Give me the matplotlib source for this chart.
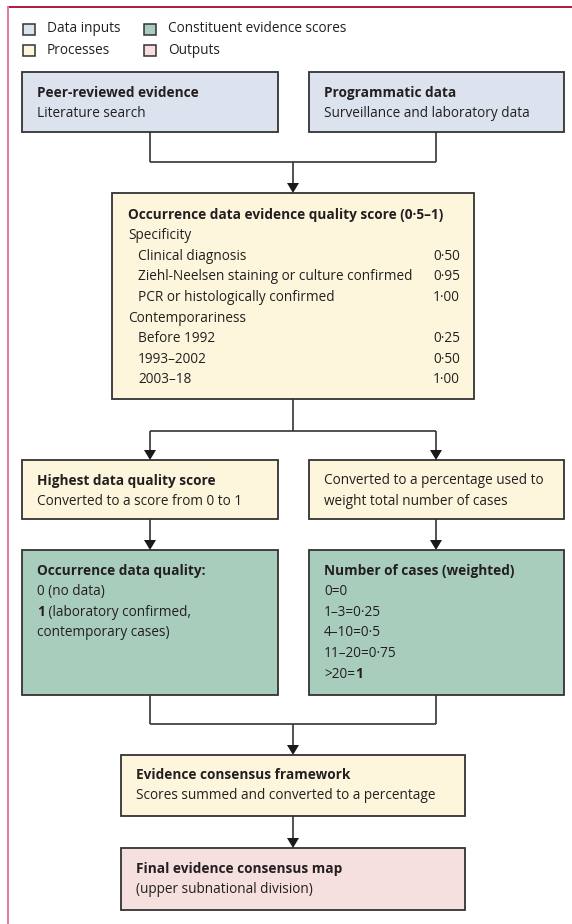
import matplotlib.pyplot as plt
from matplotlib.patches import Rectangle, Polygon

# ---- Content -------------------------------------------------------------
legend_labels = ["Data inputs", "Processes", "Constituent evidence scores", "Outputs"]

specificity_items = ["Clinical diagnosis",
                     "Ziehl-Neelsen staining or culture confirmed",
                     "PCR or histologically confirmed"]
specificity_scores = [0.50, 0.95, 1.00]

contemporary_items = ["Before 1992", "1993\u20132002", "2003\u201318"]
contemporary_scores = [0.25, 0.50, 1.00]

case_bins = ["0", "1\u20133", "4\u201310", "11\u201320", ">20"]
case_weights = [0, 0.25, 0.5, 0.75, 1]

# ---- Colours -------------------------------------------------------------
C_INPUT = "#dde3ee"
C_PROC = "#fdf6dc"
C_SCORE = "#a9cdbd"
C_OUT = "#f5dfdf"
EDGE = "#333333"
TXT = "#231f20"

FONT = "Open Sans"
FS = 9.8
LINE = 20.6

W, H = 572, 924
fig = plt.figure(figsize=(W / 100, H / 100), dpi=100)
ax = fig.add_axes([0, 0, 1, 1])
ax.set_xlim(0, W)
ax.set_ylim(H, 0)
ax.axis("off")


def fmt(v, nd=2):
    s = f"{v:.{nd}f}" if nd else f"{v:g}"
    return s.replace(".", "\u00b7")


def box(x0, y0, x1, y1, color):
    ax.add_patch(Rectangle((x0, y0), x1 - x0, y1 - y0, facecolor=color,
                           edgecolor=EDGE, linewidth=1.3, zorder=2))


def txt(x, y, s, bold=False, ha="left"):
    return ax.text(x, y, s, fontsize=FS, family=FONT, color=TXT, ha=ha,
                   va="center", fontweight="bold" if bold else "normal",
                   zorder=3)


def lines(x, y, items):
    for i, (s, b) in enumerate(items):
        txt(x, y + i * LINE, s, bold=b)


def seg(xs, ys):
    ax.plot(xs, ys, color=EDGE, linewidth=1.2, solid_capstyle="butt", zorder=1)


def arrow(x, y0, y1):
    seg([x, x], [y0, y1 - 8])
    ax.add_patch(Polygon([(x - 6, y1 - 10), (x + 6, y1 - 10), (x, y1)],
                         closed=True, facecolor="#1a1a1a", edgecolor="none",
                         zorder=3))


# frame lines
ax.plot([8, W], [7, 7], color="#b0183c", linewidth=1.4)
ax.plot([8, 8], [7, H], color="#e07b98", linewidth=1.4)

# legend
leg_cols = [C_INPUT, C_PROC, C_SCORE, C_OUT]
leg_pos = [(23, 29), (23, 50), (144, 29), (144, 50)]
for (lx, ly), col, lab in zip(leg_pos, leg_cols, legend_labels):
    ax.add_patch(Rectangle((lx, ly - 5.5), 12, 11, facecolor=col,
                           edgecolor=EDGE, linewidth=1.1))
    txt(lx + 24, ly, lab)

# data inputs
box(22, 72, 278, 132, C_INPUT)
lines(37, 93, [("Peer-reviewed evidence", True), ("Literature search", False)])
box(309, 72, 564, 132, C_INPUT)
lines(324, 93, [("Programmatic data", True),
                ("Surveillance and laboratory data", False)])

seg([150, 150], [132, 162])
seg([436, 436], [132, 162])
seg([150, 436], [162, 162])
arrow(293, 162, 193)

# occurrence quality score
box(112, 193, 474, 399, C_PROC)
txt(128, 215, "Occurrence data evidence quality score (0\u00b75\u20131)", bold=True)
y = 215 + LINE
txt(128, y, "Specificity")
for s, v in zip(specificity_items, specificity_scores):
    y += LINE
    txt(138, y, s)
    txt(460, y, fmt(v), ha="right")
y += LINE
txt(128, y, "Contemporariness")
for s, v in zip(contemporary_items, contemporary_scores):
    y += LINE
    txt(138, y, s)
    txt(460, y, fmt(v), ha="right")

seg([293, 293], [399, 431])
seg([150, 436], [431, 431])
arrow(150, 431, 460)
arrow(436, 431, 460)

# processes
box(22, 460, 278, 519, C_PROC)
lines(37, 481, [("Highest data quality score", True),
                ("Converted to a score from 0 to 1", False)])
box(309, 460, 564, 519, C_PROC)
lines(324, 481, [("Converted to a percentage used to", False),
                 ("weight total number of cases", False)])

arrow(150, 519, 550)
arrow(436, 519, 550)

# constituent scores
box(22, 550, 278, 695, C_SCORE)
txt(37, 571, "Occurrence data quality:", bold=True)
txt(37, 571 + LINE, "0 (no data)")
one = txt(37, 571 + 2 * LINE, "1", bold=True)
ax.annotate(" (laboratory confirmed,", xy=(1, 0.5), xycoords=one,
            fontsize=FS, family=FONT, color=TXT, va="center", ha="left",
            zorder=3)
txt(37, 571 + 3 * LINE, "contemporary cases)")

box(309, 550, 564, 695, C_SCORE)
txt(324, 571, "Number of cases (weighted)", bold=True)
for i, (b, w) in enumerate(zip(case_bins, case_weights)):
    yy = 571 + (i + 1) * LINE
    if w == 1:
        t = txt(324, yy, f"{b}=")
        ax.annotate("1", xy=(1, 0.5), xycoords=t, fontsize=FS, family=FONT,
                    color=TXT, va="center", ha="left", fontweight="bold",
                    zorder=3)
    else:
        txt(324, yy, f"{b}={fmt(w, 0)}")

seg([150, 150], [695, 724])
seg([436, 436], [695, 724])
seg([150, 436], [724, 724])
arrow(293, 724, 755)

# consensus
box(121, 755, 465, 816, C_PROC)
lines(136, 775, [("Evidence consensus framework", True),
                 ("Scores summed and converted to a percentage", False)])
arrow(293, 816, 848)

box(121, 848, 465, 910, C_OUT)
lines(136, 869, [("Final evidence consensus map", True),
                 ("(upper subnational division)", False)])

fig.savefig("out.png", dpi=100)
